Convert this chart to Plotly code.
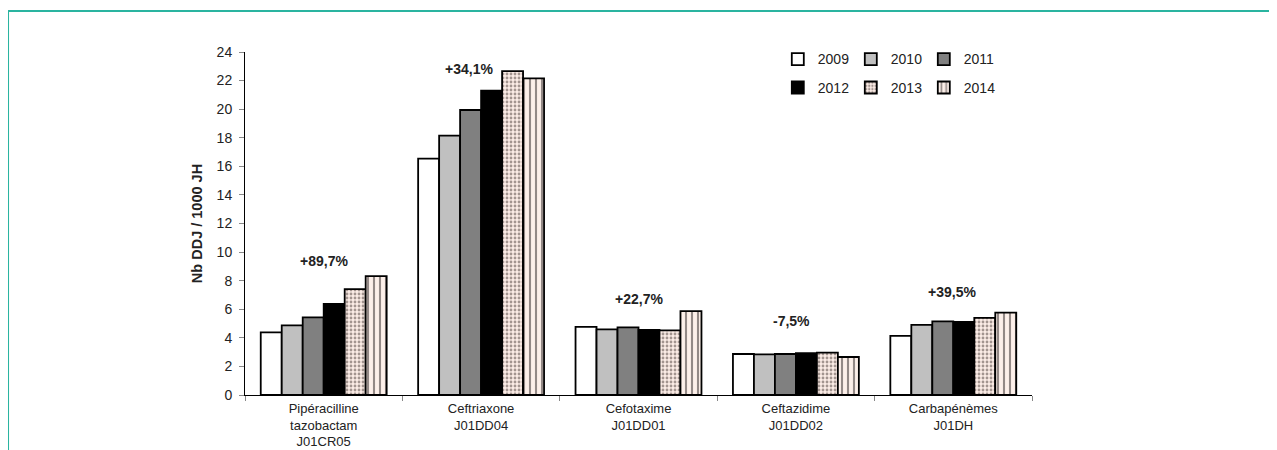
import plotly.graph_objects as go

categories = ["Pipéracilline<br>tazobactam<br>J01CR05", "Ceftriaxone<br>J01DD04",
              "Cefotaxime<br>J01DD01", "Ceftazidime<br>J01DD02", "Carbapénèmes<br>J01DH"]
years = ["2009", "2010", "2011", "2012", "2013", "2014"]

v2009 = [4.38, 16.54, 4.77, 2.87, 4.14]
v2010 = [4.87, 18.15, 4.59, 2.84, 4.91]
v2011 = [5.43, 19.94, 4.73, 2.87, 5.15]
v2012 = [6.38, 21.29, 4.56, 2.93, 5.12]
v2013 = [7.41, 22.66, 4.52, 2.96, 5.40]
v2014 = [8.32, 22.15, 5.87, 2.66, 5.76]
series = [v2009, v2010, v2011, v2012, v2013, v2014]

change_labels = ["+89,7%", "+34,1%", "+22,7%", "-7,5%", "+39,5%"]
label_x = [0.0, 0.92, 2.0, 2.975, 3.99]
label_y = [9.38, 22.83, 6.71, 5.19, 7.22]

FONT = "Liberation Sans, Arial, sans-serif"
fills = ["#ffffff", "#c0c0c0", "#808080", "#000000", "#ffffff", "#ffffff"]
patterns = [None, None, None, None,
            dict(shape=".", fgcolor="#4a3c38", bgcolor="#fbece6", size=4, solidity=0.4, fillmode="overlay"),
            dict(shape="|", fgcolor="#2a2222", bgcolor="#fdf0ea", size=6, solidity=0.35, fillmode="overlay")]

fig = go.Figure()
for i, (yr, vals) in enumerate(zip(years, series)):
    marker = dict(color=fills[i], line=dict(color="#000000", width=1.8))
    if patterns[i]:
        marker["pattern"] = patterns[i]
    fig.add_trace(go.Bar(
        x=categories, y=vals, name=yr, marker=marker,
        legend="legend" if i < 3 else "legend2",
    ))

for txt, lx, ly in zip(change_labels, label_x, label_y):
    fig.add_annotation(x=lx, y=ly, xref="x", yref="y", text="<b>" + txt + "</b>",
                       showarrow=False, font=dict(family=FONT, size=14, color="#222222"),
                       yanchor="middle", xanchor="center")

border = "#2ab4a0"
fig.add_shape(type="line", xref="paper", yref="paper", x0=-0.3011, x1=1.4, y0=1.1195, y1=1.1195,
              line=dict(color=border, width=2))
fig.add_shape(type="line", xref="paper", yref="paper", x0=-0.3011, x1=-0.3011, y0=1.1195, y1=-0.4,
              line=dict(color=border, width=2))

legend_common = dict(orientation="h", xanchor="left", yanchor="top",
                     font=dict(family=FONT, size=14, color="#222222"),
                     bgcolor="rgba(0,0,0,0)", entrywidth=28, entrywidthmode="pixels",
                     traceorder="normal")

fig.update_layout(
    width=1277, height=450,
    margin=dict(l=237, r=253, t=44, b=63, autoexpand=False),
    paper_bgcolor="#ffffff", plot_bgcolor="#ffffff",
    barmode="group", bargap=0.2, bargroupgap=0,
    font=dict(family=FONT, size=14, color="#222222"),
    legend=dict(x=0.677, y=1.025, **legend_common),
    legend2=dict(x=0.677, y=0.942, **legend_common),
    xaxis=dict(showline=True, linecolor="#000000", linewidth=1, ticks="outside",
               tickson="boundaries", ticklen=5, tickcolor="#888888", showgrid=False,
               automargin=False,
               tickfont=dict(family=FONT, size=13, color="#222222"), ticklabelstandoff=1),
    yaxis=dict(range=[0, 24], dtick=2, showline=True, linecolor="#000000", linewidth=1,
               ticks="outside", ticklen=5, tickcolor="#888888", showgrid=False, zeroline=False,
               automargin=False,
               tickfont=dict(family=FONT, size=14, color="#222222"), ticklabelstandoff=4,
               title=dict(text="<b>Nb DDJ / 1000 JH</b>", font=dict(family=FONT, size=14.5, color="#222222"),
                          standoff=10)),
)

fig.write_html("out.html")
